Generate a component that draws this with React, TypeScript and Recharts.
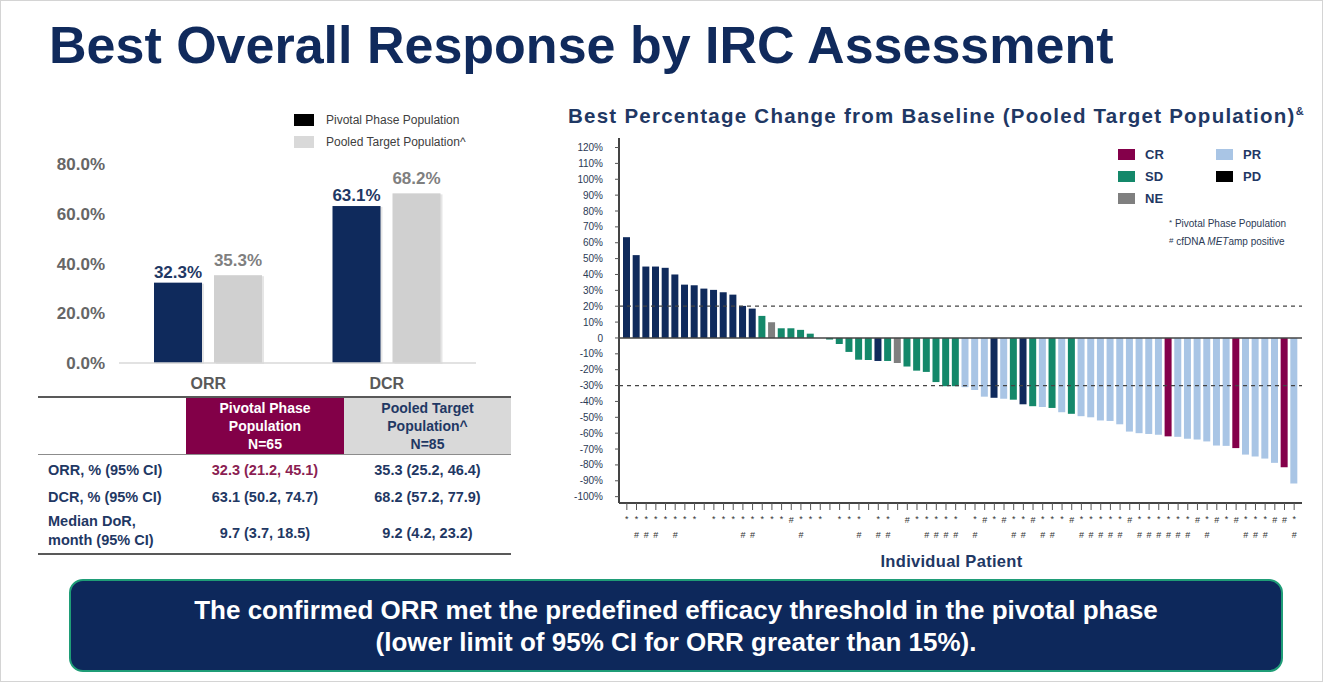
import React from 'react';
import { BarChart, Bar, XAxis, YAxis, Cell, LabelList, Legend, ReferenceLine, Label } from 'recharts';

const FONT = 'Arial, "Liberation Sans", Helvetica, sans-serif';
const NAVY = '#0f2a5c';
const TEXT_NAVY = '#1f3864';
const MAROON = '#820048';

// ORR / DCR summary
const categories = ['ORR', 'DCR'];
const pivotalRates = [32.3, 63.1];
const pooledRates = [35.3, 68.2];
const rateTicks = [0, 20, 40, 60, 80];

// Waterfall: best % change from baseline, one entry per patient (sorted)
const bestChange = [
  63.5, 52.2, 45, 45, 44.2, 40, 33.6, 33.2, 31.1, 30.3,
  28.8, 27.3, 20.2, 18.5, 13.9, 9.9, 6.1, 6.1, 5.1, 2.7,
  0, -1, -3.8, -8.8, -13.7, -13.9, -14.5, -14.5, -15.8, -18,
  -20.6, -21.4, -27.8, -30.4, -30.4, -31, -32.8, -37, -37.7, -38.3,
  -38.9, -41.8, -43, -43.5, -44.1, -46.8, -47.8, -49.3, -50, -52,
  -52.3, -54.4, -59, -60, -60.5, -61, -62, -62.3, -63.5, -64,
  -65.2, -67.8, -68, -69.4, -73.5, -74.7, -76, -78.7, -81.4, -91.7,
];
const responses = [
  'PD', 'PD', 'PD', 'PD', 'PD', 'PD', 'PD', 'PD', 'PD', 'PD',
  'PD', 'PD', 'PD', 'PD', 'SD', 'NE', 'SD', 'SD', 'SD', 'SD',
  'SD', 'SD', 'SD', 'SD', 'SD', 'SD', 'PD', 'SD', 'NE', 'SD',
  'SD', 'SD', 'SD', 'SD', 'SD', 'PR', 'PR', 'PR', 'PD', 'PR',
  'SD', 'PD', 'SD', 'PR', 'SD', 'PR', 'SD', 'PR', 'PR', 'PR',
  'PR', 'PR', 'PR', 'PR', 'PR', 'PR', 'CR', 'PR', 'PR', 'PR',
  'PR', 'PR', 'PR', 'CR', 'PR', 'PR', 'PR', 'PR', 'CR', 'PR',
];
const pivotalFlags = [
  1, 1, 1, 1, 1, 1, 1, 1, 0, 1,
  1, 1, 1, 1, 1, 1, 1, 0, 1, 1,
  1, 0, 1, 1, 1, 0, 1, 1, 0, 0,
  1, 1, 1, 1, 1, 0, 1, 0, 1, 0,
  1, 1, 0, 1, 1, 1, 0, 1, 1, 1,
  1, 1, 0, 1, 1, 1, 1, 1, 1, 0,
  1, 0, 1, 0, 1, 1, 1, 0, 0, 1,
];
const metAmpFlags = [
  0, 1, 1, 1, 0, 1, 0, 0, 0, 0,
  0, 0, 1, 1, 0, 0, 0, 1, 1, 0,
  0, 0, 0, 0, 1, 0, 1, 1, 0, 1,
  0, 1, 1, 1, 1, 0, 1, 1, 0, 1,
  1, 1, 1, 1, 1, 0, 1, 1, 1, 1,
  1, 1, 1, 1, 1, 1, 1, 1, 1, 1,
  1, 1, 0, 1, 1, 1, 1, 1, 1, 1,
];
const changeTicks = [120, 110, 100, 90, 80, 70, 60, 50, 40, 30, 20, 10, 0, -10, -20, -30, -40, -50, -60, -70, -80, -90, -100];

const RESPONSE_COLORS: Record<string, string> = {
  CR: '#84004a',
  PR: '#a9c5e5',
  SD: '#14886a',
  PD: NAVY,
  NE: '#7f7f7f',
};

const rateData = categories.map((name, i) => ({ name, pivotal: pivotalRates[i], pooled: pooledRates[i] }));

const waterfallData = bestChange.map((value, i) => ({
  id: i + 1,
  value,
  response: responses[i],
  pivotal: pivotalFlags[i] === 1,
  metAmp: metAmpFlags[i] === 1,
}));

const ShadowBar = (props: any) => {
  const { x, y, width, height, fill } = props;
  if (!height || height <= 0) return null;
  return (
    <g>
      <rect x={x + 2} y={y + 1} width={width} height={height} fill="#000" opacity={0.1} />
      <rect x={x} y={y} width={width} height={height} fill={fill} />
    </g>
  );
};

const RateLegend = () => (
  <div style={{ fontFamily: FONT, fontSize: 12, color: '#404040' }}>
    {[
      { label: 'Pivotal Phase Population', color: '#000' },
      { label: 'Pooled Target Population^', color: '#d9d9d9' },
    ].map((item) => (
      <div key={item.label} style={{ display: 'flex', alignItems: 'center', height: 22 }}>
        <span style={{ width: 20, height: 12, background: item.color, marginRight: 12 }} />
        <span>{item.label}</span>
      </div>
    ))}
  </div>
);

function RateChart() {
  return (
    <BarChart width={470} height={300} data={rateData} margin={{ top: 63, right: 25, bottom: 8, left: 0 }} barSize={48} barGap={12}>
      <XAxis
        dataKey="name"
        height={30}
        tickSize={0}
        tickMargin={15}
        axisLine={{ stroke: '#d9d9d9', strokeWidth: 1.5 }}
        tick={{ fill: '#595959', fontSize: 16, fontWeight: 700, fontFamily: FONT }}
      />
      <YAxis
        domain={[0, 80]}
        ticks={rateTicks}
        width={88}
        axisLine={false}
        tickLine={false}
        tickSize={0}
        tickMargin={14}
        tickFormatter={(v: number) => `${v.toFixed(1)}%`}
        tick={{ fill: '#666', fontSize: 17, fontWeight: 700, fontFamily: FONT }}
      />
      <Legend layout="vertical" align="center" verticalAlign="middle" wrapperStyle={{ left: 263, top: 8, width: 'auto' }} content={<RateLegend />} />
      <Bar dataKey="pivotal" fill={NAVY} shape={ShadowBar} isAnimationActive={false}>
        <LabelList dataKey="pivotal" position="top" offset={5} formatter={(v: any) => `${v}%`} style={{ fill: TEXT_NAVY, fontSize: 17, fontWeight: 700, fontFamily: FONT }} />
      </Bar>
      <Bar dataKey="pooled" fill="#d0d0d0" shape={ShadowBar} isAnimationActive={false}>
        <LabelList dataKey="pooled" position="top" offset={9} formatter={(v: any) => `${v}%`} style={{ fill: '#7f7f7f', fontSize: 17, fontWeight: 700, fontFamily: FONT }} />
      </Bar>
    </BarChart>
  );
}

const PatientTick = (props: any) => {
  const { x, y, payload } = props;
  const d = waterfallData[Number(payload.value) - 1];
  if (!d) return null;
  const style = { fontSize: 9, fontFamily: FONT, fill: '#333' };
  return (
    <g>
      {d.pivotal ? (
        <text x={x} y={y + 10} textAnchor="middle" {...style}>*</text>
      ) : d.metAmp ? (
        <text x={x} y={y + 11} textAnchor="middle" {...style}>#</text>
      ) : null}
      {d.pivotal && d.metAmp ? (
        <text x={x} y={y + 26} textAnchor="middle" {...style}>#</text>
      ) : null}
    </g>
  );
};

const ResponseLegend = () => {
  const swatch = (code: string, color: string) => (
    <div style={{ display: 'flex', alignItems: 'center', height: 22 }}>
      <span style={{ width: 17, height: 11, background: color, marginRight: 10 }} />
      <span style={{ fontWeight: 700, fontSize: 13 }}>{code}</span>
    </div>
  );
  return (
    <div style={{ fontFamily: FONT, color: TEXT_NAVY }}>
      <div style={{ display: 'grid', gridTemplateColumns: '98px 80px' }}>
        {swatch('CR', RESPONSE_COLORS.CR)}
        {swatch('PR', RESPONSE_COLORS.PR)}
        {swatch('SD', RESPONSE_COLORS.SD)}
        {swatch('PD', '#000')}
        {swatch('NE', RESPONSE_COLORS.NE)}
      </div>
      <div style={{ marginLeft: 51, marginTop: 5, fontSize: 10, lineHeight: '17px', color: '#2b3a55', whiteSpace: 'nowrap' }}>
        <div><span style={{ fontSize: 8, verticalAlign: 2 }}>*</span> Pivotal Phase Population</div>
        <div><span style={{ fontSize: 8, verticalAlign: 2 }}>#</span> cfDNA <i>MET</i>amp positive</div>
      </div>
    </div>
  );
};

function WaterfallChart() {
  return (
    <BarChart width={780} height={450} data={waterfallData} margin={{ top: 7, right: 19, bottom: 8, left: 0 }} barSize={7}>
      <XAxis
        dataKey="id"
        interval={0}
        height={70}
        padding={{ left: 3, right: 3 }}
        tickSize={7}
        tickLine={{ stroke: '#555' }}
        axisLine={{ stroke: '#444', strokeWidth: 2 }}
        tick={<PatientTick />}
      >
        <Label value="Individual Patient" position="insideBottom" offset={6} dx={-9} style={{ fill: TEXT_NAVY, fontSize: 16.5, fontWeight: 700, fontFamily: FONT, letterSpacing: 0.3 }} />
      </XAxis>
      <XAxis xAxisId="top" dataKey="id" orientation="top" height={0} tick={false} tickLine={false} axisLine={{ stroke: '#777', strokeWidth: 1.5 }} />
      <YAxis
        type="number"
        domain={[-104, 126]}
        ticks={changeTicks}
        interval={0}
        width={78}
        tickSize={4}
        tickMargin={12}
        tickLine={{ stroke: '#555' }}
        axisLine={{ stroke: '#444', strokeWidth: 2 }}
        tickFormatter={(v: number) => (v === 0 ? '0' : `${v}%`)}
        tick={{ fill: '#2b3a55', fontSize: 10, fontFamily: FONT }}
      />
      <YAxis yAxisId="right" type="number" orientation="right" domain={[-104, 126]} width={0} tick={false} tickLine={false} axisLine={{ stroke: '#777', strokeWidth: 1.5 }} />
      <Legend layout="vertical" align="center" verticalAlign="middle" wrapperStyle={{ left: 577, top: 12, width: 'auto' }} content={<ResponseLegend />} />
      <Bar dataKey="value" isAnimationActive={false}>
        {waterfallData.map((d) => (
          <Cell key={d.id} fill={RESPONSE_COLORS[d.response]} />
        ))}
      </Bar>
      <ReferenceLine y={0} stroke="#444" strokeWidth={1.5} />
      <ReferenceLine y={20} stroke="#444" strokeDasharray="4 4" strokeWidth={1.2} />
      <ReferenceLine y={-30} stroke="#444" strokeDasharray="4 4" strokeWidth={1.2} />
    </BarChart>
  );
}

const cellText: React.CSSProperties = { fontSize: 14.5, fontWeight: 700, color: TEXT_NAVY };

function SummaryTable() {
  return (
    <table
      style={{
        position: 'absolute',
        left: 37,
        top: 395,
        width: 473,
        borderCollapse: 'collapse',
        fontFamily: FONT,
        borderTop: '2px solid #595959',
        borderBottom: '2px solid #595959',
      }}
    >
      <colgroup>
        <col style={{ width: 148 }} />
        <col style={{ width: 158 }} />
        <col style={{ width: 167 }} />
      </colgroup>
      <tbody>
        <tr style={{ height: 57, borderBottom: '1.5px solid #8c8c8c' }}>
          <td />
          <td style={{ background: MAROON, color: '#fff', textAlign: 'center', fontSize: 14, fontWeight: 700, lineHeight: '18px' }}>
            Pivotal Phase<br />Population<br />N=65
          </td>
          <td style={{ background: '#d9d9d9', color: TEXT_NAVY, textAlign: 'center', fontSize: 14, fontWeight: 700, lineHeight: '18px' }}>
            Pooled Target<br />Population^<br />N=85
          </td>
        </tr>
        <tr style={{ height: 29 }}>
          <td style={{ ...cellText, paddingLeft: 10, paddingTop: 3 }}>ORR, % (95% CI)</td>
          <td style={{ ...cellText, color: '#8b1e52', textAlign: 'center', paddingTop: 3 }}>32.3 (21.2, 45.1)</td>
          <td style={{ ...cellText, textAlign: 'center', paddingTop: 3 }}>35.3 (25.2, 46.4)</td>
        </tr>
        <tr style={{ height: 26 }}>
          <td style={{ ...cellText, paddingLeft: 10 }}>DCR, % (95% CI)</td>
          <td style={{ ...cellText, textAlign: 'center' }}>63.1 (50.2, 74.7)</td>
          <td style={{ ...cellText, textAlign: 'center' }}>68.2 (57.2, 77.9)</td>
        </tr>
        <tr style={{ height: 44 }}>
          <td style={{ ...cellText, paddingLeft: 10, lineHeight: '19px' }}>Median DoR,<br />month (95% CI)</td>
          <td style={{ ...cellText, textAlign: 'center', paddingTop: 5 }}>9.7 (3.7, 18.5)</td>
          <td style={{ ...cellText, textAlign: 'center', paddingTop: 5 }}>9.2 (4.2, 23.2)</td>
        </tr>
      </tbody>
    </table>
  );
}

export default function App() {
  return (
    <div
      style={{
        position: 'absolute',
        left: 0,
        top: 0,
        width: 1321,
        height: 680,
        background: '#fff',
        border: '1px solid #d4d4d4',
        fontFamily: FONT,
        overflow: 'hidden',
      }}
    >
      <div style={{ position: 'absolute', left: 48, top: 14, fontSize: 52, fontWeight: 700, color: '#102a5c', whiteSpace: 'nowrap', lineHeight: '60px' }}>
        Best Overall Response by IRC Assessment
      </div>

      <div style={{ position: 'absolute', left: 30, top: 100 }}>
        <RateChart />
      </div>

      <SummaryTable />

      <div style={{ position: 'absolute', left: 567, top: 103, fontSize: 20.5, fontWeight: 700, color: TEXT_NAVY, whiteSpace: 'nowrap', letterSpacing: 1.25 }}>
        Best Percentage Change from Baseline (Pooled Target Population)
        <sup style={{ fontSize: 11, letterSpacing: 0 }}>&amp;</sup>
      </div>

      <div style={{ position: 'absolute', left: 540, top: 130 }}>
        <WaterfallChart />
      </div>

      <div
        style={{
          position: 'absolute',
          left: 68,
          top: 578,
          width: 1210,
          height: 89,
          background: '#0d285b',
          border: '2px solid #1f9d77',
          borderRadius: 14,
          color: '#fff',
          fontSize: 26,
          fontWeight: 700,
          textAlign: 'center',
          lineHeight: '32px',
          display: 'flex',
          flexDirection: 'column',
          justifyContent: 'center',
        }}
      >
        <div>The confirmed ORR met the predefined efficacy threshold in the pivotal phase</div>
        <div>(lower limit of 95% CI for ORR greater than 15%).</div>
      </div>
    </div>
  );
}
